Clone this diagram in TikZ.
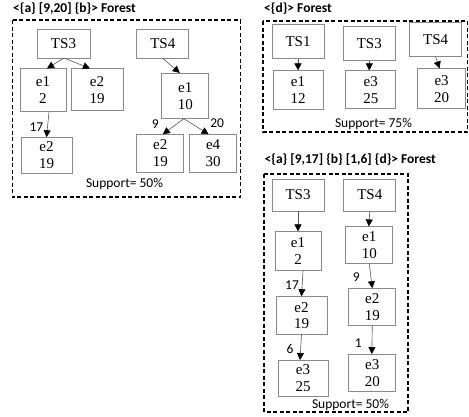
\documentclass[tikz,border=0pt]{standalone}
\usepackage{fontspec}
\usepackage{tikz}
\usepackage{xcolor}
\usetikzlibrary{arrows.meta,positioning}
\setmainfont{Liberation Serif}
\newfontfamily\calib{Carlito}
\definecolor{BoxGray}{HTML}{8A8A8A}
\definecolor{LineGray}{HTML}{555555}
\begin{document}
\begin{tikzpicture}[
  x=1pt,y=-1pt,
  tsnode/.style={draw=BoxGray,fill=white,line width=0.8pt,minimum width=52pt,minimum height=31pt,inner sep=0pt,align=center,font=\fontsize{15}{17}\selectfont},
  evnode/.style={draw=BoxGray,fill=white,line width=0.8pt,minimum width=48pt,minimum height=40pt,inner sep=0pt,align=center,font=\fontsize{15}{17}\selectfont},
  arrow/.style={-{Triangle[length=7pt,width=7pt,color=black]},draw=LineGray,line width=0.6pt},
  frame/.style={draw=black,line width=1.2pt,dash pattern=on 4pt off 2.5pt},
  title/.style={anchor=west,inner sep=0pt,font=\calib\bfseries\fontsize{13.5}{15}\selectfont},
  support/.style={inner sep=0pt,font=\calib\fontsize{13.5}{15}\selectfont},
  elabel/.style={inner sep=1pt,font=\calib\fontsize{13.5}{15}\selectfont}
]
\useasboundingbox (0,0) rectangle (469,416);

% <{a} [9,20] {b}>
\node[title] (tab) at (13,9) {<\{a\} [9,20] \{b\}> Forest};
\draw[frame] (12.5,20) rectangle (240.5,197);
\node[tsnode,minimum width=53pt,minimum height=29pt] (ts3a) at (63.5,43.5) {TS3};
\node[tsnode,minimum height=29pt,right=46pt of ts3a] (ts4a) {TS4};
\node[evnode,minimum width=46pt,minimum height=43pt,below=10pt of ts3a,xshift=-20.5pt] (e1a) {e1\\2};
\node[evnode,minimum width=52pt,minimum height=42pt,below=10pt of ts3a,xshift=33.5pt] (e2a) {e2\\19};
\node[evnode,minimum width=51pt,minimum height=36pt,below=25pt of e1a,xshift=3.5pt] (e2b) {e2\\19};
\node[evnode,minimum width=47pt,minimum height=45pt,below=14.5pt of ts4a,xshift=22.5pt] (e1b) {e1\\10};
\node[evnode,minimum width=47pt,minimum height=38pt,below=15.5pt of e1b,xshift=-25pt] (e2c) {e2\\19};
\node[evnode,minimum width=47pt,minimum height=38pt,right=5pt of e2c] (e4a) {e4\\30};
\node[support] (supa) at (124.5,184) {Support= 50\%};
\draw[arrow] (ts3a.south) -- ([xshift=4pt]e1a.north);
\draw[arrow] ([xshift=1.5pt]ts3a.south) -- ([xshift=-7pt]e2a.north);
\draw[arrow] ([xshift=6pt]e1a.south) -- node[elabel,pos=0.6,left=3pt]{17} (e2b.north);
\draw[arrow] (ts4a.south) -- ([xshift=-5.5pt]e1b.north);
\draw[arrow] ([xshift=-1.5pt]e1b.south) -- node[elabel,pos=0.32,left=17pt]{9} ([xshift=2.5pt]e2c.north);
\draw[arrow] ([xshift=-1.5pt]e1b.south) -- node[elabel,pos=0.29,right=18pt]{20} ([xshift=-4.5pt]e4a.north);

% <{d}>
\node[title] (td) at (264,9) {<\{d\}> Forest};
\draw[frame] (263,21) rectangle (467.5,132);
\node[tsnode,minimum height=34pt] (ts1b) at (298,41.5) {TS1};
\node[tsnode,minimum height=34pt,right=18.5pt of ts1b,yshift=-2pt] (ts3b) {TS3};
\node[tsnode,minimum height=34pt,right=13.5pt of ts3b,yshift=4pt] (ts4b) {TS4};
\node[evnode,minimum width=50pt,minimum height=39pt,below=11.5pt of ts1b] (e1c) {e1\\12};
\node[evnode,minimum width=50pt,minimum height=38pt,below=9.5pt of ts3b,xshift=1.5pt] (e3a) {e3\\25};
\node[evnode,minimum width=48pt,minimum height=40pt,below=11.5pt of ts4b,xshift=6pt] (e3b) {e3\\20};
\node[support] (supd) at (373.5,124) {Support= 75\%};
\draw[arrow] (ts1b.south) -- (e1c.north);
\draw[arrow] (ts3b.south) -- ([xshift=-1.5pt]e3a.north);
\draw[arrow] (ts4b.south) -- ([xshift=-2pt]e3b.north);

% <{a} [9,17] {b} [1,6] {d}>
\node[title] (tabd) at (264.5,160) {<\{a\} [9,17] \{b\} [1,6] \{d\}> Forest};
\draw[frame] (264,174) rectangle (408,412);
\node[tsnode,minimum height=32pt] (ts3c) at (298,195) {TS3};
\node[tsnode,minimum height=32pt,right=19pt of ts3c] (ts4c) {TS4};
\node[evnode,minimum width=46pt,minimum height=39pt,below=20pt of ts3c] (e1d) {e1\\2};
\node[evnode,minimum width=47pt,minimum height=37pt,below=15pt of ts4c,xshift=-0.5pt] (e1e) {e1\\10};
\node[evnode,minimum width=51pt,minimum height=38pt,below=25pt of e1d,xshift=3.5pt] (e2d) {e2\\19};
\node[evnode,minimum width=47pt,minimum height=37pt,below=24pt of e1e,xshift=3pt] (e2e) {e2\\19};
\node[evnode,minimum width=50pt,minimum height=36pt,below=25pt of e2d,xshift=1.5pt] (e3c) {e3\\25};
\node[evnode,minimum width=47pt,minimum height=37pt,below=28pt of e2e] (e3d) {e3\\20};
\node[support] (supabd) at (350.5,405) {Support= 50\%};
\draw[arrow] (ts3c.south) -- (e1d.north);
\draw[arrow] (ts4c.south) -- ([xshift=-0.5pt]e1e.north);
\draw[arrow] ([xshift=5pt]e1d.south) -- node[elabel,pos=0.56,left=2pt]{17} (e2d.north);
\draw[arrow] (e1e.south) -- node[elabel,pos=0.54,left=10pt]{9} (e2e.north);
\draw[arrow] (e2d.south) -- node[elabel,pos=0.56,left=6pt]{6} ([xshift=-3pt]e3c.north);
\draw[arrow] (e2e.south) -- node[elabel,pos=0.6,left=9pt]{1} ([xshift=-0.5pt]e3d.north);
\end{tikzpicture}
\end{document}
